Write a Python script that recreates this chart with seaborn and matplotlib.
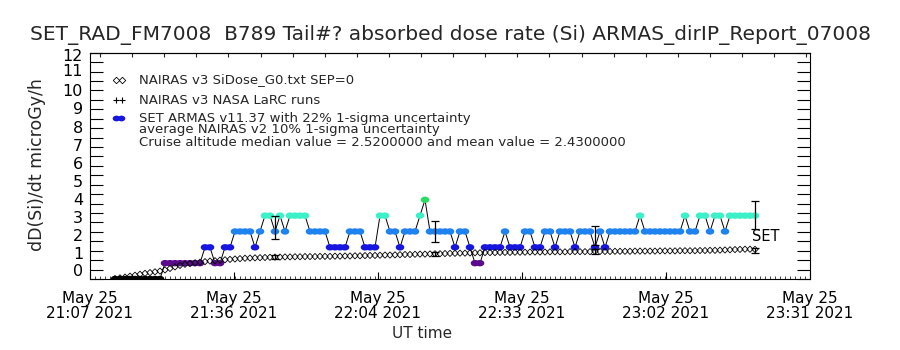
import matplotlib
matplotlib.use("Agg")
import matplotlib.pyplot as plt
from matplotlib.path import Path
from matplotlib.markers import MarkerStyle
from matplotlib.transforms import ScaledTranslation
import numpy as np
import pandas as pd
import seaborn as sns

# ---------------- data ----------------
title_text = "SET_RAD_FM7008  B789 Tail#? absorbed dose rate (Si) ARMAS_dirIP_Report_07008"
ylabel_text = "dD(Si)/dt microGy/h"
xlabel_text = "UT time"
xtick_minutes = [0.0, 28.8, 57.6, 86.4, 115.2, 144.0]   # minutes after 21:07
xtick_labels = ["May 25\n21:07 2021", "May 25\n21:36 2021", "May 25\n22:04 2021",
                "May 25\n22:33 2021", "May 25\n23:02 2021", "May 25\n23:31 2021"]
ytick_values = list(range(0, 13))

legend_lines = [
    "NAIRAS v3 SiDose_G0.txt SEP=0",
    "NAIRAS v3 NASA LaRC runs",
    "SET ARMAS v11.37 with 22% 1-sigma uncertainty",
    "average NAIRAS v2 10% 1-sigma uncertainty",
    "Cruise altitude median value = 2.5200000 and mean value = 2.4300000",
]

armas_minutes = list(range(5, 134))
armas_dose = [
    0.0, 0.0, 0.0, 0.0, 0.0, 0.0, 0.0, 0.0, 0.0, 0.0,
    0.84, 0.84, 0.84, 0.84, 0.84, 0.84, 0.84, 0.84,
    1.68, 1.68, 0.84, 0.84, 1.68, 1.68,
    2.52, 2.52, 2.52, 2.52, 1.68, 2.52, 3.36, 3.36, 2.52, 3.36, 2.52,
    3.36, 3.36, 3.36, 3.36, 2.52, 2.52, 2.52, 2.52,
    1.68, 1.68, 1.68, 1.68, 2.52, 2.52, 2.52, 1.68, 1.68, 1.68,
    3.36, 3.36, 2.52, 2.52, 1.68, 2.52, 2.52, 2.52, 3.36, 4.2,
    2.52, 2.52, 2.52, 2.52, 2.52, 1.68, 2.52, 2.52, 1.68, 0.84, 0.84,
    1.68, 1.68, 1.68, 1.68, 2.52, 1.68, 1.68, 1.68, 2.52, 2.52,
    1.68, 1.68, 2.52, 2.52, 1.68, 2.52, 2.52, 2.52, 1.68, 2.52, 2.52, 2.52,
    1.68, 2.52, 1.68, 2.52, 2.52, 2.52, 2.52, 2.52, 2.52, 3.36,
    2.52, 2.52, 2.52, 2.52, 2.52, 2.52, 2.52, 2.52, 3.36, 2.52, 2.52,
    3.36, 3.36, 2.52, 3.36, 3.36, 2.52,
    3.36, 3.36, 3.36, 3.36, 3.36, 3.36,
]

nairas_minutes = list(range(5, 134))
nairas_dose = [
    0.02, 0.06, 0.10, 0.15, 0.20, 0.25, 0.30, 0.34, 0.38, 0.42,
    0.48, 0.56, 0.64, 0.72, 0.78, 0.82, 0.86, 0.89, 0.92, 0.95,
    0.97, 1.00, 1.02, 1.04, 1.06, 1.08, 1.10, 1.11, 1.12, 1.13,
    1.14, 1.15, 1.16, 1.16, 1.17, 1.17,
    1.18, 1.18, 1.19, 1.19, 1.19, 1.20, 1.20, 1.20, 1.21, 1.21, 1.22,
    1.22, 1.23, 1.23, 1.24, 1.25, 1.25, 1.26, 1.27, 1.27, 1.28, 1.29,
    1.30, 1.30, 1.31, 1.32, 1.32, 1.33,
    1.34, 1.34, 1.35, 1.36, 1.36, 1.37, 1.37, 1.38, 1.39, 1.39,
    1.40, 1.40, 1.40, 1.41, 1.41, 1.41, 1.42, 1.42, 1.42, 1.43, 1.43,
    1.43, 1.43, 1.44, 1.44, 1.44, 1.44, 1.45, 1.45, 1.45, 1.45, 1.45,
    1.46, 1.46, 1.46, 1.46, 1.47, 1.47, 1.47, 1.47, 1.48, 1.48, 1.48,
    1.48, 1.48, 1.49, 1.49, 1.49, 1.49, 1.50, 1.50, 1.50, 1.50, 1.51,
    1.51, 1.52, 1.52,
    1.53, 1.54, 1.55, 1.56, 1.57, 1.58, 1.58, 1.57,
]

err_minutes = [37, 69, 101, 133]
armas_err_center = [2.73, 2.50, 2.32, 3.38]
armas_err_half = [0.62, 0.55, 0.51, 0.73]
nairas_err_center = [1.17, 1.33, 1.45, 1.50]
nairas_err_half = [0.11, 0.12, 0.12, 0.13]

set_label = "SET"
set_label_pos = (132.4, 2.23)

level_colors = {
    0.0: "#000000",
    0.84: "#5a0a8c",
    1.68: "#1616e0",
    2.52: "#1e82f0",
    3.36: "#3cf0c8",
    4.2: "#28dc64",
}

# IDL-style vertical nudges of the y tick labels (pixels, upward)
ylabel_nudge_px = [9, 7, 6, 5, 5, 4, 3, 2, 1, 1, 0, 2, -2]

# ---------------- figure ----------------
sns.set_theme(style="white")
plt.rcParams["font.family"] = ["DejaVu Sans"]
plt.rcParams["axes.edgecolor"] = "black"
plt.rcParams["axes.linewidth"] = 0.8

W, H = 900, 350
fig = plt.figure(figsize=(9, 3.5), dpi=100)
ax = fig.add_axes([90 / W, 1 - 279 / H, 720 / W, (279 - 52.7) / H])

armas_df = pd.DataFrame({"t": armas_minutes, "dose": armas_dose})
nairas_df = pd.DataFrame({"t": nairas_minutes, "dose": nairas_dose})

# connecting line for ARMAS
sns.lineplot(data=armas_df, x="t", y="dose", color="black", linewidth=0.7,
             estimator=None, sort=False, ax=ax, zorder=2)

# ellipse-shaped marker
theta = np.linspace(0, 2 * np.pi, 41)
ell = Path(np.column_stack([np.cos(theta), 0.75 * np.sin(theta)]), closed=True)

sns.scatterplot(data=armas_df, x="t", y="dose", hue="dose", palette=level_colors,
                legend=False, marker=MarkerStyle(ell), s=38, linewidth=0,
                ax=ax, zorder=3)

sns.scatterplot(data=nairas_df, x="t", y="dose", marker="D", s=10,
                facecolors="none", edgecolors="black", linewidth=0.6,
                ax=ax, zorder=4)

ax.errorbar(err_minutes, armas_err_center, yerr=armas_err_half, fmt="none",
            ecolor="black", elinewidth=0.9, capsize=3, capthick=0.9, zorder=5)
ax.errorbar(err_minutes, nairas_err_center, yerr=nairas_err_half, fmt="none",
            ecolor="black", elinewidth=0.9, capsize=3, capthick=0.9, zorder=5)

ax.text(set_label_pos[0], set_label_pos[1], set_label, fontsize=10.5,
        ha="left", va="center", color="black")

# axes limits and ticks
ax.set_xlim(0, 144)
ax.set_ylim(0, 12)
ax.set_xticks(xtick_minutes)
ax.set_xticklabels(xtick_labels, fontsize=11, linespacing=0.95)
ax.set_xticks(np.arange(0, 145, 1), minor=True)
ax.set_yticks(ytick_values)
ax.set_yticklabels([str(v) for v in ytick_values], fontsize=11.5)
ax.set_yticks(np.arange(0.5, 12, 1.0), minor=True)
ax.tick_params(axis="y", which="both", direction="in", length=9.5, width=0.8,
               left=True, right=True, pad=5, colors="black")
ax.tick_params(axis="x", which="major", direction="in", length=5, width=0.8,
               bottom=True, top=False, pad=9, colors="black")
ax.tick_params(axis="x", which="minor", direction="in", length=2.5, width=0.6,
               bottom=True, top=False)
for lab, dy in zip(ax.get_yticklabels(), ylabel_nudge_px):
    lab.set_transform(lab.get_transform() + ScaledTranslation(0, dy / 100, fig.dpi_scale_trans))

secax = ax.secondary_xaxis("top")
secax.set_xticks(np.arange(2, 144, 6.42))
secax.set_xticklabels([])
secax.tick_params(direction="in", length=3, width=0.8)

for sp in ax.spines.values():
    sp.set_color("black")
    sp.set_linewidth(0.8)

ax.set_xlabel("")
ax.set_ylabel(ylabel_text, fontsize=12.5)
ax.yaxis.set_label_coords((46 - 90) / 720, (279 - 165) / (279 - 52.7))
fig.text(422 / W, 1 - 333 / H, xlabel_text, fontsize=11, ha="center", va="center")

fig.text(450 / W, 1 - 35 / H, title_text, fontsize=14.5, ha="center", va="center")

# legend (manual, IDL style)
leg_y = [80, 100, 118, 130, 142]
for txt, yy in zip(legend_lines, leg_y):
    fig.text(139 / W, 1 - yy / H, txt, fontsize=9.5, ha="left", va="center")
fig.lines.append(plt.Line2D([116 / W, 122 / W], [1 - 80 / H] * 2, transform=fig.transFigure,
                            linestyle="none", marker="D", markersize=3.3,
                            markerfacecolor="none", markeredgecolor="black",
                            markeredgewidth=0.6))
fig.lines.append(plt.Line2D([116 / W, 122 / W], [1 - 100 / H] * 2, transform=fig.transFigure,
                            linestyle="none", marker="+", markersize=5,
                            markeredgecolor="black", markeredgewidth=0.8))
fig.lines.append(plt.Line2D([116 / W, 121 / W], [1 - 118 / H] * 2, transform=fig.transFigure,
                            linestyle="none", marker=MarkerStyle(ell), markersize=5.5,
                            markerfacecolor="#1616e0", markeredgewidth=0))

fig.savefig("out.png", dpi=100, facecolor="white")
